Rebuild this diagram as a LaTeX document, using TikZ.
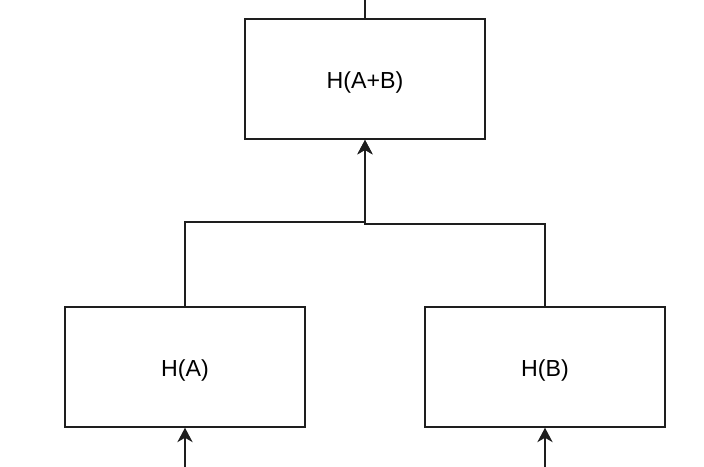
\documentclass[tikz,border=0pt]{standalone}
\usepackage{fontspec}
\setmainfont{Liberation Sans}
\usetikzlibrary{positioning,arrows.meta}
\definecolor{hLine}{RGB}{30,30,30}

\begin{document}
\begin{tikzpicture}[
    line width=1.3pt,
    box node/.style={rectangle, draw=hLine, line width=1.3pt, minimum width=6cm, minimum height=3cm, fill=white, text height=15pt, text depth=1pt, font=\fontsize{16.5}{19}\selectfont},
    link/.style={draw=hLine, -{Stealth[length=3.6mm, width=3.8mm, inset=1.1mm]}}
]
  \useasboundingbox (0,0) rectangle (17.6,-11.65);
  \node[box node] (sum) at (9.125,-1.975) {H(A+B)};
  \node[box node] (ha) [below=4.15cm of sum, xshift=-4.5cm] {H(A)};
  \node[box node] (hb) [below=4.15cm of sum, xshift=4.5cm] {H(B)};
  \coordinate[above=0.475cm of sum] (out);
  \coordinate[below=1.025cm of ha] (ina);
  \coordinate[below=1.025cm of hb] (inb);

  \draw[hLine] (sum) -- (out);
  \draw[link] (ha) |- ([yshift=-2.05cm]sum.south) -- (sum);
  \draw[link] (hb) |- ([yshift=-2.1cm]sum.south) -- (sum);
  \draw[link] (ina) -- (ha);
  \draw[link] (inb) -- (hb);
\end{tikzpicture}
\end{document}
